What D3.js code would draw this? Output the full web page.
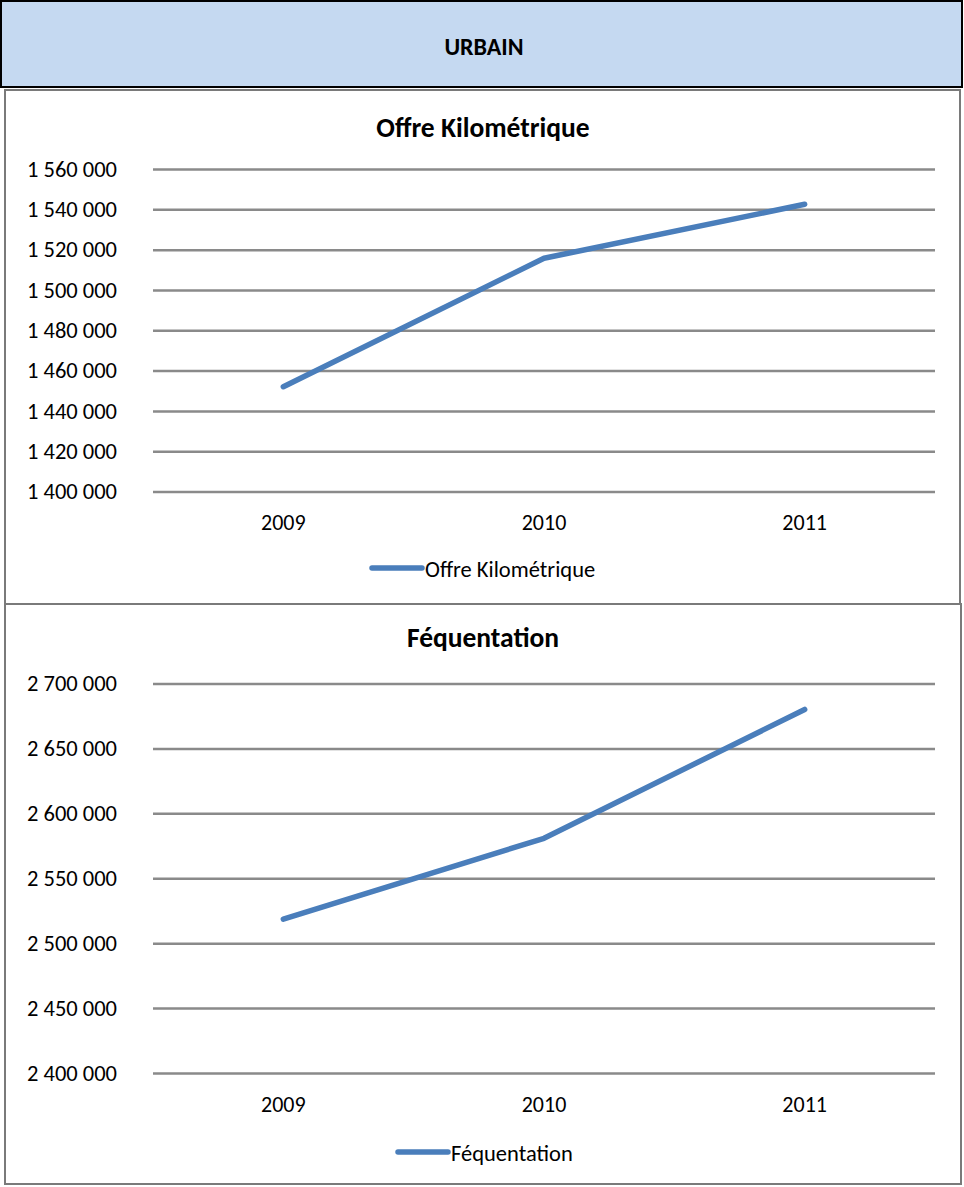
<!DOCTYPE html>
<html><head><meta charset="utf-8">
<script src="https://cdn.jsdelivr.net/npm/d3@7"></script>
<style>html,body{margin:0;padding:0;background:#fff;}svg{display:block;}</style>
</head><body>
<script>
// ---- data ----
const years = ["2009", "2010", "2011"];
const offreValues = [1452000, 1515700, 1542500];
const offreTicks = [1400000, 1420000, 1440000, 1460000, 1480000, 1500000, 1520000, 1540000, 1560000];
const freqValues = [2518500, 2580800, 2680000];
const freqTicks = [2400000, 2450000, 2500000, 2550000, 2600000, 2650000, 2700000];
const headerTitle = "URBAIN";
const offreTitle = "Offre Kilométrique";
const freqTitle = "Féquentation";

const W = 964, H = 1187;
const FONT = "Carlito, Calibri, Lato, 'Open Sans', sans-serif";
const svg = d3.select("body").append("svg").attr("width", W).attr("height", H);
const loc = d3.formatLocale({decimal: ",", thousands: " ", grouping: [3], currency: ["", "€"]});
const fmt = loc.format(",d");

// header
svg.append("rect").attr("x", 1).attr("y", 1).attr("width", 961).attr("height", 86)
  .attr("fill", "#C5D9F1").attr("stroke", "#000").attr("stroke-width", 2);
svg.append("text").attr("x", 484).attr("y", 55).attr("text-anchor", "middle")
  .attr("font-family", FONT).attr("font-weight", "bold").attr("font-size", 24).attr("fill", "#000")
  .text(headerTitle);

// panels
svg.append("rect").attr("x", 5).attr("y", 90).attr("width", 955).attr("height", 514)
  .attr("fill", "#fff").attr("stroke", "#7a7a7a").attr("stroke-width", 2);
svg.append("rect").attr("x", 5).attr("y", 604).attr("width", 956).attr("height", 580)
  .attr("fill", "#fff").attr("stroke", "#7a7a7a").attr("stroke-width", 2);

function drawChart(cfg) {
  const x = d3.scaleBand().domain(years).range([153, 935]);
  const y = d3.scaleLinear().domain(cfg.domain).range(cfg.range);
  const g = svg.append("g");
  // title
  g.append("text").attr("x", 483).attr("y", cfg.titleY).attr("text-anchor", "middle")
    .attr("font-family", FONT).attr("font-weight", "bold").attr("font-size", 27.5).attr("fill", "#000")
    .text(cfg.title);
  // y axis with gridlines
  const yAxis = d3.axisLeft(y).tickValues(cfg.ticks).tickFormat(fmt)
    .tickSize(-(935 - 153)).tickPadding(36);
  const ya = g.append("g").attr("transform", "translate(153,0)").call(yAxis);
  ya.select(".domain").remove();
  ya.selectAll(".tick line").attr("stroke", "#8a8a8a").attr("stroke-width", 2.5);
  ya.selectAll(".tick text").attr("font-family", FONT).attr("font-size", 22.5).attr("fill", "#000");
  // x axis
  const xAxis = d3.axisBottom(x).tickSize(0).tickPadding(23);
  const xa = g.append("g").attr("transform", `translate(0,${cfg.range[0]})`).call(xAxis);
  xa.select(".domain").remove();
  xa.selectAll(".tick text").attr("font-family", FONT).attr("font-size", 22).attr("fill", "#000");
  // line
  const line = d3.line().x((d, i) => x(years[i]) + x.bandwidth() / 2).y(d => y(d));
  g.append("path").datum(cfg.values).attr("d", line).attr("fill", "none")
    .attr("stroke", "#4A7EBB").attr("stroke-width", 5.5)
    .attr("stroke-linecap", "round").attr("stroke-linejoin", "round");
  // legend
  g.append("line").attr("x1", cfg.legX).attr("x2", cfg.legX + 50)
    .attr("y1", cfg.legY).attr("y2", cfg.legY)
    .attr("stroke", "#4A7EBB").attr("stroke-width", 5.5).attr("stroke-linecap", "round");
  g.append("text").attr("x", cfg.legX + 53).attr("y", cfg.legY + 9)
    .attr("font-family", FONT).attr("font-size", 22.5).attr("fill", "#000").text(cfg.title);
}

drawChart({title: offreTitle, values: offreValues, ticks: offreTicks,
  domain: [1400000, 1560000], range: [491.5, 169], titleY: 137, legX: 372, legY: 568});
drawChart({title: freqTitle, values: freqValues, ticks: freqTicks,
  domain: [2400000, 2700000], range: [1073, 683.5], titleY: 647, legX: 398, legY: 1152});
</script>
</body></html>
